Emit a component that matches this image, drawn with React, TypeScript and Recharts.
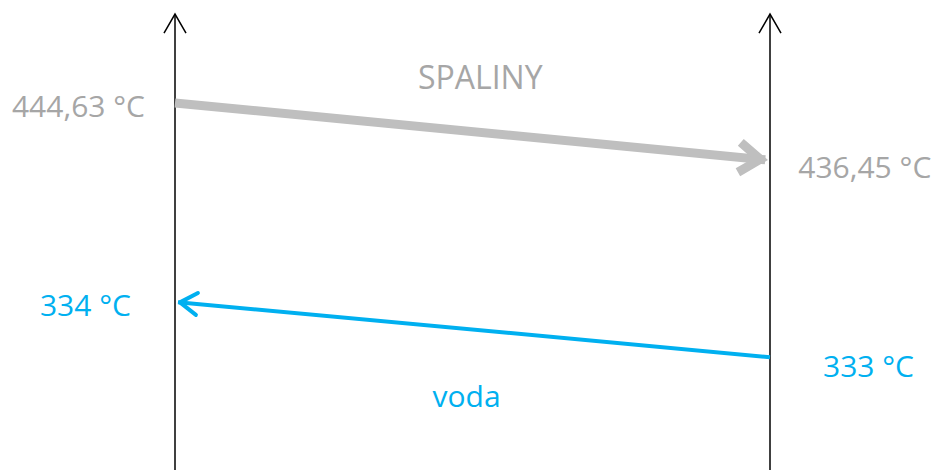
import React from 'react';
import { LineChart, Line, XAxis, YAxis, ReferenceDot } from 'recharts';

// side positions: 0 = left axis, 1 = right axis
const axisLeft = [{ x: 0, level: 100 }, { x: 0, level: 3 }];
const axisRight = [{ x: 1, level: 100 }, { x: 1, level: 3 }];

// flue gas (spaliny): left -> right
const spalinySide = [0, 0.992];
const spalinyLevel = [21.9, 34.0];
const spalinyTemp = ['444,63 °C', '436,45 °C'];

// water (voda): right -> left
const vodaSide = [1, 0.005];
const vodaLevel = [76.0, 64.3];
const vodaTemp = ['333 °C', '334 °C'];

const titles = ['SPALINY', 'voda'];

const spalinyData = spalinySide.map((x, i) => ({ x, level: spalinyLevel[i], t: spalinyTemp[i] }));
const vodaData = vodaSide.map((x, i) => ({ x, level: vodaLevel[i], t: vodaTemp[i] }));

const GRAY = '#bfbfbf';
const GRAY_TEXT = '#a6a6a6';
const BLUE = '#00b0f0';
const FONT = '"Open Sans", sans-serif';
const FS = 30;

const makeLabel = (data: { t: string }[], color: string, offs: { dx: number; dy: number; anchor: string }[]) =>
  (props: any) => {
    const { x, y, index } = props;
    const o = offs[index];
    return (
      <text
        key={index}
        x={x + o.dx}
        y={y + o.dy}
        textAnchor={o.anchor as any}
        fill={color}
        fontFamily={FONT}
        fontSize={FS}
      >
        {data[index].t}
      </text>
    );
  };

export default function App() {
  return (
    <div style={{ position: 'absolute', left: 0, top: 0 }}>
      <LineChart width={936} height={470} margin={{ top: 0, right: 166, bottom: 0, left: 175 }}>
        <defs>
          <marker id="axisArrow" markerUnits="userSpaceOnUse" markerWidth="40" markerHeight="40" refX="0" refY="0" orient="auto" overflow="visible">
            <path d="M -19 -11 L 0 0 L -19 11" fill="none" stroke="#000" strokeWidth={1.5} />
          </marker>
          <marker id="grayArrow" markerUnits="userSpaceOnUse" markerWidth="40" markerHeight="40" refX="0" refY="0" orient="auto" overflow="visible">
            <path d="M -26 -15 L -5 0 L -26 15" fill="none" stroke={GRAY} strokeWidth={9} strokeLinejoin="miter" />
          </marker>
          <marker id="blueArrow" markerUnits="userSpaceOnUse" markerWidth="40" markerHeight="40" refX="0" refY="0" orient="auto" overflow="visible">
            <path d="M -19 -11 L -2 0 L -19 11" fill="none" stroke={BLUE} strokeWidth={4} strokeLinejoin="round" strokeLinecap="round" />
          </marker>
        </defs>
        <XAxis type="number" dataKey="x" domain={[0, 1]} hide />
        <YAxis type="number" dataKey="level" domain={[0, 100]} reversed hide />
        <Line data={axisLeft} dataKey="level" stroke="#000" strokeWidth={1.5} dot={false} isAnimationActive={false} markerEnd="url(#axisArrow)" />
        <Line data={axisRight} dataKey="level" stroke="#000" strokeWidth={1.5} dot={false} isAnimationActive={false} markerEnd="url(#axisArrow)" />
        <Line
          data={spalinyData}
          dataKey="level"
          stroke={GRAY}
          strokeWidth={9}
          dot={false}
          isAnimationActive={false}
          markerEnd="url(#grayArrow)"
          label={makeLabel(spalinyData, GRAY_TEXT, [
            { dx: -30, dy: 14, anchor: 'end' },
            { dx: 33, dy: 18, anchor: 'start' },
          ])}
        />
        <Line
          data={vodaData}
          dataKey="level"
          stroke={BLUE}
          strokeWidth={4}
          dot={false}
          isAnimationActive={false}
          markerEnd="url(#blueArrow)"
          label={makeLabel(vodaData, BLUE, [
            { dx: 53, dy: 20, anchor: 'start' },
            { dx: -47, dy: 14, anchor: 'end' },
          ])}
        />
        <ReferenceDot
          x={0.513}
          y={16.6}
          r={0}
          label={{ value: titles[0], position: 'center', fill: GRAY_TEXT, fontFamily: FONT, fontSize: 32 }}
        />
        <ReferenceDot
          x={0.49}
          y={84.3}
          r={0}
          label={{ value: titles[1], position: 'center', fill: BLUE, fontFamily: FONT, fontSize: FS }}
        />
      </LineChart>
    </div>
  );
}
